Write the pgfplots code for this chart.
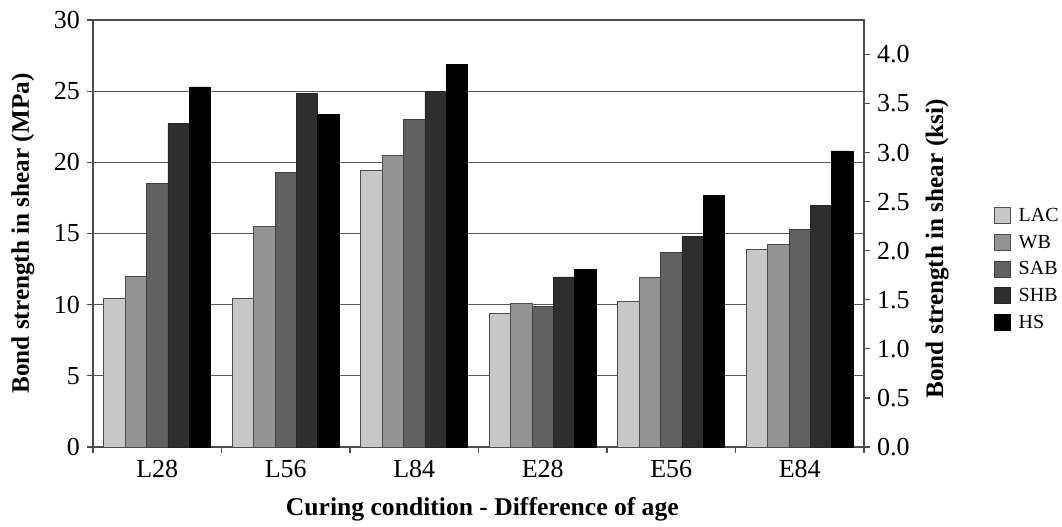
\documentclass[border=0pt]{standalone}
\usepackage{fontspec}
\setmainfont{Liberation Serif}
\usepackage{pgfplots}
\usepackage{pgfplotstable}
\pgfplotsset{compat=1.18}
\pgfplotstableread{
x LAC WB SAB SHB HS
0.5 10.45 11.97 18.53 22.75 25.30
1.5 10.45 15.50 19.30 24.85 23.35
2.5 19.40 20.50 23.00 24.95 26.85
3.5 9.40 10.10 9.90 11.95 12.45
4.5 10.25 11.90 13.65 14.80 17.70
5.5 13.90 14.25 15.30 17.00 20.80
}\data
\pgfplotsset{sqleg/.style={legend image code/.code={\draw[##1] (0pt,-4pt) rectangle (8pt,4pt);}}}
\begin{document}
\begin{tikzpicture}
\useasboundingbox (-46.5pt,-39.5pt) rectangle (484.5pt,223.5pt);
\begin{axis}[
  at={(0,0)}, anchor=south west,
  scale only axis, width=385.5pt, height=213.5pt,
  xmin=0, xmax=6, ymin=0, ymax=30,
  ybar=0pt, bar width=10.7pt,
  xtick={0.5,1.5,2.5,3.5,4.5,5.5},
  xticklabels={L28,L56,L84,E28,E56,E84},
  major x tick style={draw=none},
  minor xtick={0,1,2,3,4,5,6},
  ytick={0,5,10,15,20,25,30},
  tick align=outside, ytick pos=left, xtick pos=bottom,
  major tick length=3pt, minor tick length=3pt,
  ymajorgrids, grid style={black!65, line width=0.5pt},
  axis line style={black!70, line width=0.6pt},
  tick style={black!70, line width=0.6pt},
  tick label style={font=\fontsize{13}{15}\selectfont},
  /pgf/number format/assume math mode=true,
  ylabel={Bond strength in shear (MPa)},
  ylabel style={at={(axis description cs:-0.091,0.5)}, anchor=center, font=\bfseries\fontsize{12.6}{14}\selectfont},
  xlabel={Curing condition - Difference of age},
  xlabel style={at={(axis description cs:0.505,-0.145)}, anchor=center, font=\bfseries\fontsize{12.8}{14}\selectfont},
  legend style={at={(axis description cs:1.168,0.417)}, anchor=west, draw=none, fill=none,
     inner sep=0pt, font=\fontsize{10}{11}\selectfont, row sep=5pt,
     nodes={text height=7pt, text depth=1pt, inner ysep=0pt, inner xsep=4pt}},
  legend cell align=left,
]
\addplot[sqleg, fill=black!22, draw=black!70, line width=0.4pt] table[x=x, y=LAC] {\data};
\addplot[sqleg, fill=black!42, draw=black!70, line width=0.4pt] table[x=x, y=WB] {\data};
\addplot[sqleg, fill=black!62, draw=black!75, line width=0.4pt] table[x=x, y=SAB] {\data};
\addplot[sqleg, fill=black!82, draw=black!85, line width=0.4pt] table[x=x, y=SHB] {\data};
\addplot[sqleg, fill=black, draw=black, line width=0.4pt] table[x=x, y=HS] {\data};
\legend{LAC,WB,SAB,SHB,HS}
\end{axis}
\begin{axis}[
  at={(0,0)}, anchor=south west,
  scale only axis, width=385.5pt, height=213.5pt,
  xmin=0, xmax=6, ymin=0, ymax=4.35114,
  axis x line=none, axis y line*=right,
  ytick={0,0.5,1,1.5,2,2.5,3,3.5,4},
  yticklabel style={/pgf/number format/fixed, /pgf/number format/fixed zerofill, /pgf/number format/precision=1},
  /pgf/number format/assume math mode=true,
  tick align=outside, major tick length=3pt,
  axis line style={black!70, line width=0.6pt},
  tick style={black!70, line width=0.6pt},
  tick label style={font=\fontsize{13}{15}\selectfont},
  ylabel={Bond strength in shear (ksi)},
  ylabel style={at={(axis description cs:1.095,0.464)}, anchor=center, font=\bfseries\fontsize{12.6}{14}\selectfont},
]
\addplot[draw=none] coordinates {(0,0) (6,4)};
\end{axis}
\end{tikzpicture}
\end{document}
